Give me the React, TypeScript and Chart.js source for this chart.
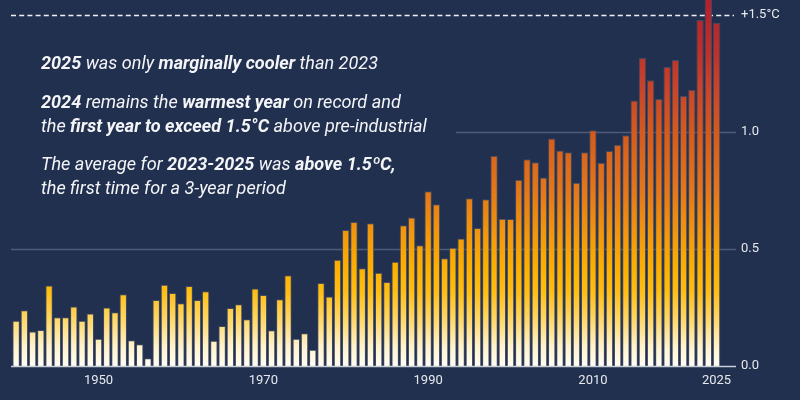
import React, { useEffect, useRef } from "react";
import { Chart, registerables } from "chart.js";

Chart.register(...registerables);

const years = [
  1940, 1941, 1942, 1943, 1944, 1945, 1946, 1947, 1948, 1949,
  1950, 1951, 1952, 1953, 1954, 1955, 1956, 1957, 1958, 1959,
  1960, 1961, 1962, 1963, 1964, 1965, 1966, 1967, 1968, 1969,
  1970, 1971, 1972, 1973, 1974, 1975, 1976, 1977, 1978, 1979,
  1980, 1981, 1982, 1983, 1984, 1985, 1986, 1987, 1988, 1989,
  1990, 1991, 1992, 1993, 1994, 1995, 1996, 1997, 1998, 1999,
  2000, 2001, 2002, 2003, 2004, 2005, 2006, 2007, 2008, 2009,
  2010, 2011, 2012, 2013, 2014, 2015, 2016, 2017, 2018, 2019,
  2020, 2021, 2022, 2023, 2024, 2025,
];

const anomalies = [
  0.194, 0.238, 0.148, 0.154, 0.344, 0.208, 0.208, 0.254, 0.194, 0.225,
  0.116, 0.25, 0.23, 0.307, 0.11, 0.093, 0.033, 0.282, 0.347, 0.312,
  0.268, 0.342, 0.282, 0.32, 0.108, 0.171, 0.248, 0.264, 0.2, 0.331,
  0.304, 0.153, 0.285, 0.388, 0.116, 0.14, 0.07, 0.355, 0.297, 0.454,
  0.582, 0.616, 0.418, 0.61, 0.399, 0.359, 0.446, 0.602, 0.635, 0.516,
  0.747, 0.692, 0.461, 0.506, 0.545, 0.717, 0.59, 0.713, 0.899, 0.63,
  0.629, 0.796, 0.884, 0.871, 0.806, 0.973, 0.921, 0.914, 0.784, 0.914,
  1.008, 0.869, 0.919, 0.946, 0.987, 1.135, 1.317, 1.222, 1.142, 1.278,
  1.308, 1.154, 1.181, 1.479, 1.6, 1.468,
];

const xTickYears = [1950, 1970, 1990, 2010, 2025];
const yTickValues = [0, 0.5, 1.0, 1.5];
const yTickLabels = ["0.0", "0.5", "1.0", "+1.5°C"];
const thresholdValue = 1.5;

// styling (value -> colour stops for the vertical gradient)
const gradientStops: [number, string][] = [
  [0.0, "#fffef5"],
  [0.08, "#fff3cf"],
  [0.2, "#ffd766"],
  [0.32, "#ffbd12"],
  [0.42, "#fcb000"],
  [0.55, "#f39a0b"],
  [0.75, "#e3771a"],
  [1.0, "#d45a1d"],
  [1.2, "#c8432a"],
  [1.35, "#bd3029"],
  [1.6, "#b31d2d"],
];
const gridLines = [
  { value: 0.5, fromX: 11 },
  { value: 1.0, fromX: 456 },
];

type Seg = [string, boolean];
const noteLines: { segs: Seg[]; baseline: number }[] = [
  { segs: [["2025", true], [" was only ", false], ["marginally cooler", true], [" than 2023", false]], baseline: 69 },
  { segs: [["2024", true], [" remains the ", false], ["warmest year", true], [" on record and", false]], baseline: 108 },
  { segs: [["the ", false], ["first year to exceed 1.5°C", true], [" above pre-industrial", false]], baseline: 132 },
  { segs: [["The average for ", false], ["2023-2025", true], [" was ", false], ["above 1.5ºC,", true]], baseline: 170 },
  { segs: [["the first time for a 3-year period", false]], baseline: 194 },
];

const BG = "#223050";
const TEXT = "#e6e8ec";

const decorPlugin = {
  id: "decor",
  beforeDatasetsDraw(chart: any) {
    const { ctx, chartArea, scales } = chart;
    const y = scales.y;
    const right = chartArea.right;
    ctx.save();
    ctx.strokeStyle = "#4d5b79";
    ctx.lineWidth = 1.5;
    for (const g of gridLines) {
      const py = Math.round(y.getPixelForValue(g.value)) + 0.5;
      ctx.beginPath();
      ctx.moveTo(g.fromX, py);
      ctx.lineTo(right, py);
      ctx.stroke();
    }
    // threshold dashed line
    const ty = Math.round(y.getPixelForValue(thresholdValue)) + 0.5;
    ctx.strokeStyle = "#eef0f3";
    ctx.lineWidth = 1.5;
    ctx.setLineDash([5, 3.2]);
    ctx.beginPath();
    ctx.moveTo(11, ty);
    ctx.lineTo(right - 2, ty);
    ctx.stroke();
    ctx.setLineDash([]);

    // annotation text
    const fontFor = (b: boolean) => `italic ${b ? "bold" : "normal"} 18px Roboto`;
    const measure = (segs: Seg[]) =>
      segs.reduce((acc, [t, b]) => {
        ctx.font = fontFor(b);
        return acc + ctx.measureText(t).width;
      }, 0);
    const sx = 337 / measure(noteLines[0].segs);
    ctx.fillStyle = "#f4f5f7";
    ctx.textBaseline = "alphabetic";
    ctx.textAlign = "left";
    for (const line of noteLines) {
      ctx.save();
      ctx.translate(41, line.baseline);
      ctx.scale(sx, 1);
      let x = 0;
      for (const [t, b] of line.segs) {
        ctx.font = fontFor(b);
        ctx.fillText(t, x, 0);
        x += ctx.measureText(t).width;
      }
      ctx.restore();
    }
    ctx.restore();
  },
  afterDatasetsDraw(chart: any) {
    const { ctx, chartArea, scales } = chart;
    const py = Math.round(scales.y.getPixelForValue(0)) + 0.5;
    ctx.save();
    ctx.strokeStyle = "#c9cdd6";
    ctx.lineWidth = 1.5;
    ctx.beginPath();
    ctx.moveTo(11, py);
    ctx.lineTo(chartArea.right, py);
    ctx.stroke();
    ctx.restore();
  },
};

export default function App() {
  const ref = useRef<HTMLCanvasElement | null>(null);

  useEffect(() => {
    if (!ref.current) return;
    const chart = new Chart(ref.current, {
      type: "bar",
      data: {
        datasets: [
          {
            data: years.map((yr, i) => ({ x: yr, y: anomalies[i] })),
            backgroundColor: (c: any) => {
              const ch = c.chart;
              if (!ch.chartArea) return "#ffb800";
              const ys = ch.scales.y;
              const y0 = ys.getPixelForValue(0);
              const y1 = ys.getPixelForValue(1.6);
              const g = ch.ctx.createLinearGradient(0, y0, 0, y1);
              for (const [v, col] of gradientStops) g.addColorStop(v / 1.6, col);
              return g;
            },
            borderColor: "rgba(70,78,100,0.85)",
            borderWidth: 1,
            barPercentage: 0.9,
            categoryPercentage: 1.0,
          },
        ],
      },
      options: {
        animation: false,
        responsive: true,
        maintainAspectRatio: false,
        layout: { padding: { left: 12, right: 0, top: 0, bottom: 0 } },
        plugins: {
          legend: { display: false },
          tooltip: { enabled: false },
        },
        scales: {
          x: {
            type: "linear",
            offset: false,
            min: 1939.5,
            max: 2027.36,
            grid: { display: false, drawTicks: false },
            border: { display: false },
            afterBuildTicks: (s: any) => {
              s.ticks = xTickYears.map((v) => ({ value: v }));
            },
            afterFit: (s: any) => {
              s.height = 34;
              s.paddingLeft = 0;
              s.paddingRight = 0;
            },
            ticks: {
              autoSkip: false,
              maxRotation: 0,
              padding: 7,
              color: TEXT,
              font: { family: "Roboto", size: 13 },
              callback: (v: any) => String(v),
            },
          },
          y: {
            position: "right",
            min: 0,
            max: 1.565,
            grid: { display: false, drawTicks: false },
            border: { display: false },
            afterBuildTicks: (s: any) => {
              s.ticks = yTickValues.map((v) => ({ value: v }));
            },
            afterFit: (s: any) => {
              s.width = 64;
              s.paddingTop = 0;
              s.paddingBottom = 0;
            },
            ticks: {
              padding: 5,
              color: TEXT,
              font: { family: "Roboto", size: 13 },
              callback: (v: any) => {
                const i = yTickValues.indexOf(v);
                return i >= 0 ? yTickLabels[i] : "";
              },
            },
          },
        },
      },
      plugins: [decorPlugin],
    } as any);
    return () => chart.destroy();
  }, []);

  return (
    <div
      style={{
        position: "absolute",
        left: 0,
        top: 0,
        width: 800,
        height: 400,
        background: BG,
      }}
    >
      <canvas ref={ref} />
    </div>
  );
}
